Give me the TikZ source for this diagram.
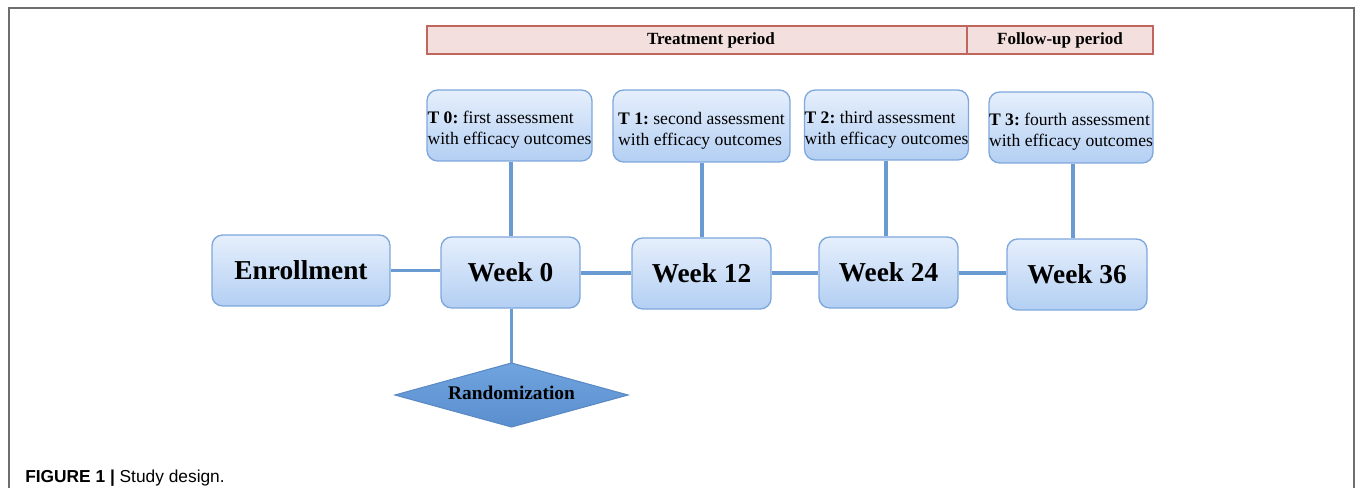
\documentclass[tikz,border=0pt]{standalone}
\usepackage{fontspec}
\setmainfont{Liberation Serif}
\newfontfamily\capfont{Liberation Sans}
\definecolor{frame}{HTML}{6E6E6E}
\definecolor{boxtop}{HTML}{E6EFFC}
\definecolor{boxbot}{HTML}{B3CFF3}
\definecolor{boxline}{HTML}{7EA8DC}
\definecolor{conn}{HTML}{6A9AD2}
\definecolor{hdrfill}{HTML}{F4DFDF}
\definecolor{hdrline}{HTML}{C0665F}
\definecolor{diatop}{HTML}{6FA4DF}
\definecolor{diabot}{HTML}{5B8ECE}
\definecolor{dialine}{HTML}{5A89C4}
\tikzset{
  bluebox/.style={draw=boxline, line width=1pt, rounded corners=8pt,
    top color=boxtop, bottom color=boxbot, inner sep=0pt},
  weekbox/.style={bluebox, font=\fontsize{20.5}{24}\selectfont\bfseries},
  tbox/.style={bluebox, font=\fontsize{13.2}{15.8}\selectfont\frenchspacing, align=left},
  hdrbox/.style={draw=hdrline, line width=0.9pt, fill=hdrfill, inner sep=0pt,
    font=\fontsize{12.8}{15}\selectfont\bfseries},
  link/.style={draw=conn, line width=2.4pt},
}
\newcommand{\tstrut}{\rule{0pt}{16pt}}
\begin{document}
\begin{tikzpicture}[x=0.75pt,y=-0.75pt]
\useasboundingbox (0,0) rectangle (1355,488);
% frame
\draw[frame, line width=1.3pt] (9,488) -- (9,8) -- (1354,8) -- (1354,488);
% header
\node[hdrbox, minimum width={540*0.75pt}, minimum height={28*0.75pt}] (hdrT) at (697,40) {\hspace*{21pt}Treatment period};
\node[hdrbox, minimum width={186*0.75pt}, minimum height={28*0.75pt}] (hdrF) at (1060,40) {Follow-up period};
% assessment boxes
\node[tbox, minimum width={165*0.75pt}, minimum height={71*0.75pt}] (t0) at (509.5,125.5) {\tstrut\textbf{T 0:} first assessment\\ with efficacy outcomes};
\node[tbox, minimum width={177*0.75pt}, minimum height={72*0.75pt}] (t1) at (701.5,126) {\tstrut\textbf{T 1:} second assessment\\ with efficacy outcomes};
\node[tbox, minimum width={163*0.75pt}, minimum height={70*0.75pt}] (t2) at (886.5,125) {\tstrut\textbf{T 2:} third assessment\\ with efficacy outcomes};
\node[tbox, minimum width={164*0.75pt}, minimum height={71*0.75pt}] (t3) at (1071,127.5) {\tstrut\textbf{T 3:} fourth assessment\\ with efficacy outcomes};
% week boxes
\node[weekbox, minimum width={178*0.75pt}, minimum height={71*0.75pt}] (enr) at (301,270.5) {Enrollment};
\node[weekbox, minimum width={139*0.75pt}, minimum height={71*0.75pt}] (w0) at (510.5,272.5) {Week 0};
\node[weekbox, minimum width={139*0.75pt}, minimum height={71*0.75pt}] (w12) at (701.5,273.5) {Week 12};
\node[weekbox, minimum width={139*0.75pt}, minimum height={71*0.75pt}] (w24) at (888.5,272.5) {Week 24};
\node[weekbox, minimum width={140*0.75pt}, minimum height={71*0.75pt}] (w36) at (1077,274.5) {Week 36};
% randomization diamond
\path[draw=dialine, line width=0.8pt, top color=diatop, bottom color=diabot]
  (395,395) -- (511.5,363) -- (628,395) -- (511.5,427) -- cycle;
\coordinate (randtop) at (511.5,363);
\node[inner sep=0pt, font=\fontsize{14.5}{17}\selectfont\bfseries] (rand) at (511.5,393) {Randomization};
% connectors
\path[link] (enr.east) -- (w0.west |- enr.east);
\path[link] (w0.east |- 0,273) -- (w12.west |- 0,273);
\path[link] (w12.east |- 0,273) -- (w24.west |- 0,273);
\path[link] (w24.east |- 0,273) -- (w36.west |- 0,273);
\path[link] (t0.south -| 511,0) -- (w0.north -| 511,0);
\path[link] (t1.south -| 702,0) -- (w12.north -| 702,0);
\path[link] (t2.south -| 886,0) -- (w24.north -| 886,0);
\path[link] (t3.south -| 1073,0) -- (w36.north -| 1073,0);
\path[link] (w0.south -| randtop) -- (randtop);
% caption
\node[anchor=base west, inner sep=0pt, font=\capfont\fontsize{13}{15}\selectfont] (cap) at (25,482)
  {\textbf{FIGURE 1} \textbf{|} Study design.};
\end{tikzpicture}
\end{document}
